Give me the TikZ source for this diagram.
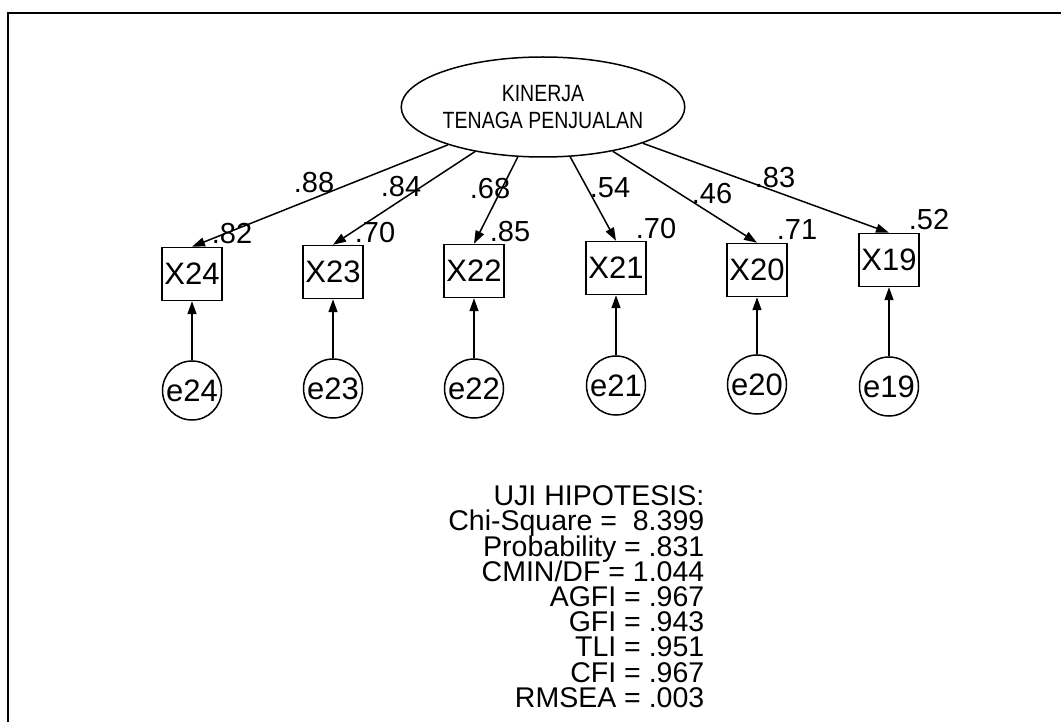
\documentclass[tikz,border=0pt]{standalone}
\usepackage{fontspec}
\setmainfont{Liberation Sans}
\newfontfamily\tallfont{Liberation Sans}[FakeStretch=0.83]
\usetikzlibrary{arrows.meta, positioning, shapes.geometric}

\begin{document}
\begin{tikzpicture}[
    x=1pt, y=-1pt, >={Triangle[length=13pt, width=9pt]},
    line width=1.5pt,
    latent/.style={draw, ellipse, minimum width=263pt, minimum height=100pt,
                   inner sep=0pt, align=center,
                   font=\tallfont\fontsize{23.5}{27}\selectfont},
    observed/.style={draw, rectangle, minimum width=60pt, minimum height=53pt,
                     inner sep=0pt, font=\fontsize{31}{31}\selectfont},
    errterm/.style={draw, circle, minimum size=59pt, inner sep=0pt,
                    font=\fontsize{31}{31}\selectfont},
    coef/.style={inner sep=0pt, font=\fontsize{29}{29}\selectfont},
    fitblock/.style={inner sep=0pt, align=right,
                     font=\fontsize{28.5}{25.2}\selectfont\lineskiplimit-100pt\relax}
  ]
  \useasboundingbox (0,0) rectangle (1061,722);
  \draw[line width=2pt] (8,722) -- (8,13) -- (1061,13);

  \node[latent] (kinerja) at (543,107) {KINERJA\\TENAGA PENJUALAN};

  \node[observed] (x24) at (192,274) {X24};
  \node[observed] (x23) at (333,272) {X23};
  \node[observed] (x22) at (474,271) {X22};
  \node[observed] (x21) at (616,268) {X21};
  \node[observed] (x20) at (757,270) {X20};
  \node[observed] (x19) at (889,260) {X19};

  \node[errterm, below=59pt of x24] (e24) {e24};
  \node[errterm, below=59pt of x23] (e23) {e23};
  \node[errterm, below=60pt of x22] (e22) {e22};
  \node[errterm, below=60pt of x21] (e21) {e21};
  \node[errterm, below=57pt of x20] (e20) {e20};
  \node[errterm, below=69pt of x19] (e19) {e19};

  % loadings
  \node[coef] (l24) at (314,183) {.88};
  \node[coef] (l23) at (401,187) {.84};
  \node[coef] (l22) at (490,189) {.68};
  \node[coef] (l21) at (610,188) {.54};
  \node[coef] (l20) at (712,194) {.46};
  \node[coef] (l19) at (775,178) {.83};
  % squared multiple correlations
  \node[coef] (r24) at (232,234) {.82};
  \node[coef] (r23) at (375,233) {.70};
  \node[coef] (r22) at (510,232) {.85};
  \node[coef] (r21) at (656,229) {.70};
  \node[coef] (r20) at (797,230) {.71};
  \node[coef] (r19) at (929,220) {.52};

  \draw[->] (kinerja) -- (x24.north);
  \draw[->] (kinerja) -- (x23.north);
  \draw[->] (kinerja) -- (x22.north);
  \draw[->] (kinerja) -- (x21.north);
  \draw[->] (kinerja) -- (x20.north);
  \draw[->] (kinerja) -- (x19.north);

  \draw[->] (e24) -- (x24);
  \draw[->] (e23) -- (x23);
  \draw[->] (e22) -- (x22);
  \draw[->] (e21) -- (x21);
  \draw[->] (e20) -- (x20);
  \draw[->] (e19) -- (x19);

  \node[fitblock, anchor=north east] (fitstats) at (705,485)
    {UJI HIPOTESIS:\\Chi-Square =\ \ 8.399\\Probability = .831\\
     CMIN/DF = 1.044\\AGFI = .967\\GFI = .943\\TLI = .951\\CFI = .967\\
     RMSEA = .003};
\end{tikzpicture}
\end{document}
